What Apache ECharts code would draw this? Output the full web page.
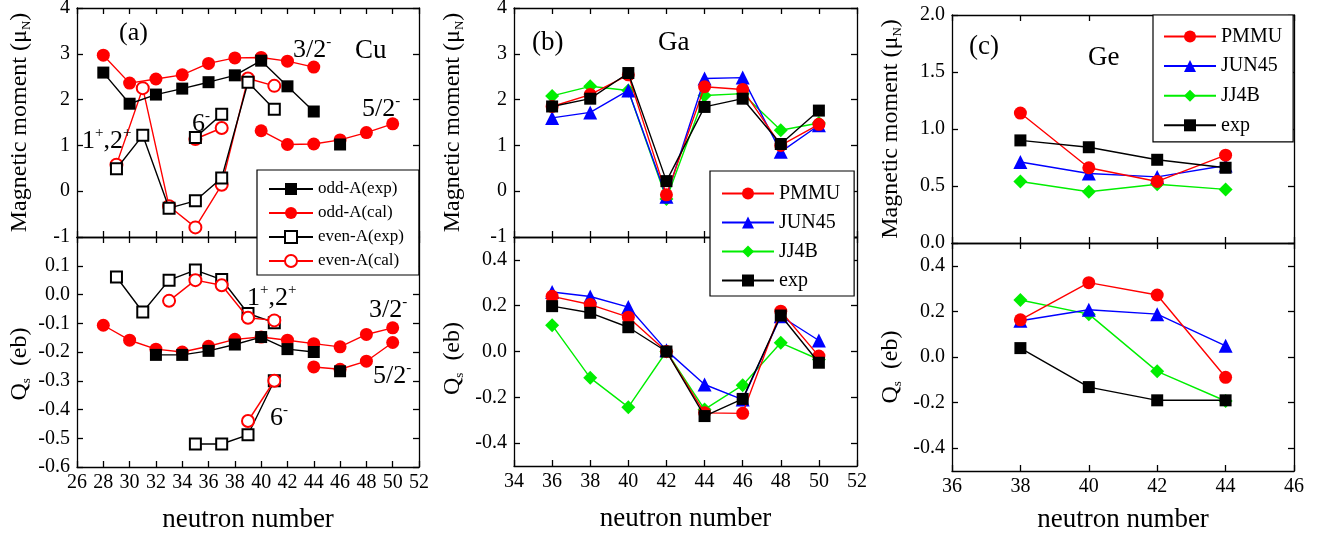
<!DOCTYPE html>
<html><head><meta charset="utf-8">
<script src="https://cdn.jsdelivr.net/npm/echarts@6/dist/echarts.min.js"></script>
<style>html,body{margin:0;padding:0;background:#fff}#c{width:1328px;height:538px}</style>
</head><body><div id="c"></div><script>
// ===================== DATA =====================
// ---- Panel (a) Cu : magnetic moment ----
const cuOddN        = [28, 30, 32, 34, 36, 38, 40, 42, 44];
const cuOddExpMu    = [2.59, 1.91, 2.11, 2.24, 2.38, 2.53, 2.85, 2.29, 1.74];
const cuOddCalMu    = [2.97, 2.36, 2.45, 2.54, 2.79, 2.91, 2.92, 2.84, 2.71];
const cu52CalMuN    = [40, 42, 44, 46, 48, 50];
const cu52CalMu     = [1.32, 1.02, 1.03, 1.12, 1.28, 1.47];
const cu52ExpMuN    = [46];
const cu52ExpMu     = [1.02];
const cuEvenN       = [29, 31, 33, 35, 37, 39, 41];
const cuEvenExpMu   = [0.49, 1.22, -0.37, -0.21, 0.29, 2.38, 1.79];
const cuEvenCalMu   = [0.58, 2.25, -0.33, -0.79, 0.14, 2.46, 2.30];
const cu6N          = [35, 37];
const cu6ExpMu      = [1.17, 1.68];
const cu6CalMu      = [1.14, 1.38];
// ---- Panel (a) Cu : quadrupole moment ----
const cuOddCalQN    = [28, 30, 32, 34, 36, 38, 40, 42, 44, 46, 48, 50];
const cuOddCalQ     = [-0.107, -0.159, -0.19, -0.20, -0.18, -0.156, -0.148, -0.159, -0.171, -0.182, -0.139, -0.116];
const cuOddExpQN    = [32, 34, 36, 38, 40, 42, 44];
const cuOddExpQ     = [-0.21, -0.21, -0.196, -0.174, -0.148, -0.19, -0.20];
const cu52CalQN     = [44, 46, 48, 50];
const cu52CalQ      = [-0.252, -0.26, -0.232, -0.167];
const cu52ExpQN     = [46];
const cu52ExpQ      = [-0.267];
const cuEvenExpQ    = [0.061, -0.061, 0.05, 0.085, 0.052, -0.066, -0.098];
const cuEvenCalQN   = [33, 35, 37, 39, 41];
const cuEvenCalQ    = [-0.022, 0.05, 0.032, -0.081, -0.09];
const cu6ExpQN      = [35, 37, 39, 41];
const cu6ExpQ       = [-0.52, -0.52, -0.488, -0.30];
const cu6CalQN      = [39, 41];
const cu6CalQ       = [-0.44, -0.30];
// ---- Panel (b) Ga ----
const gaN           = [36, 38, 40, 42, 44, 46, 48, 50];
const gaPmmuMu      = [1.85, 2.11, 2.54, -0.08, 2.28, 2.22, 1.00, 1.46];
const gaJun45Mu     = [1.60, 1.72, 2.20, -0.12, 2.46, 2.48, 0.86, 1.44];
const gaJj4bMu      = [2.08, 2.29, 2.20, -0.17, 2.09, 2.13, 1.33, 1.49];
const gaExpMu       = [1.85, 2.02, 2.58, 0.22, 1.84, 2.02, 1.03, 1.76];
const gaPmmuQ       = [0.241, 0.205, 0.15, 0.0, -0.268, -0.27, 0.176, -0.02];
const gaJun45Q      = [0.26, 0.24, 0.194, 0.005, -0.144, -0.21, 0.154, 0.048];
const gaJj4bQ       = [0.115, -0.115, -0.243, 0.0, -0.253, -0.147, 0.038, -0.035];
const gaExpQ        = [0.198, 0.169, 0.106, 0.0, -0.282, -0.207, 0.157, -0.049];
// ---- Panel (c) Ge ----
const geN           = [38, 40, 42, 44];
const gePmmuMu      = [1.14, 0.66, 0.54, 0.77];
const geJun45Mu     = [0.71, 0.61, 0.58, 0.68];
const geJj4bMu      = [0.54, 0.45, 0.515, 0.47];
const geExpMu       = [0.90, 0.84, 0.73, 0.66];
const gePmmuQ       = [0.163, 0.326, 0.272, -0.089];
const geJun45Q      = [0.159, 0.207, 0.188, 0.049];
const geJj4bQ       = [0.25, 0.188, -0.063, -0.193];
const geExpQ        = [0.039, -0.132, -0.19, -0.19];
// ---- tick values ----
const qTicksBC      = [-0.4, -0.2, 0, 0.2, 0.4];
// ---- names ----
const cuLegend      = ['odd-A(exp)', 'odd-A(cal)', 'even-A(exp)', 'even-A(cal)'];
const modelLegend   = ['PMMU', 'JUN45', 'JJ4B', 'exp'];

// ===================== LAYOUT / STYLE =====================
const FONT = 'Liberation Serif';
const RED = '#ff0000', BLUE = '#0000ff', GREEN = '#00ee00', BLACK = '#000000';
const grids = [
  {left: 77,  top: 8,   width: 342, height: 229},
  {left: 77,  top: 237, width: 342, height: 230},
  {left: 514, top: 8,   width: 343, height: 229},
  {left: 514, top: 237, width: 343, height: 229},
  {left: 952, top: 15,  width: 342, height: 228},
  {left: 952, top: 243, width: 342, height: 228}
];
const xRanges = [[26,52],[26,52],[34,52],[34,52],[36,46],[36,46]];
const fmtInt = v => String(Math.round(v));
const fmt1 = v => (Math.abs(v) < 1e-9 ? 0 : v).toFixed(1);
const yCfg = [
  {min: -1, max: 4, interval: 1, fmt: fmtInt, name: 'mu'},
  {min: -0.6, max: 0.2, interval: 0.1, fmt: fmt1, hideMax: true, name: 'q', pad: 24},
  {min: -1, max: 4, interval: 1, fmt: fmtInt, name: 'mu'},
  {min: -0.5, max: 0.5, custom: qTicksBC, fmt: fmt1, name: 'q', pad: 14},
  {min: 0, max: 2, interval: 0.5, fmt: fmt1, name: 'mu'},
  {min: -0.5, max: 0.5, custom: qTicksBC, fmt: fmt1, name: 'q', pad: 20}
];
const yNameGap = [44, 44, 48, 48, 48, 48];

const axLine = {show: true, onZero: false, lineStyle: {color: '#000', width: 1.3}};
const axTick = {show: true, inside: true, length: 6, lineStyle: {color: '#000', width: 1.3}};

const xAxes = [], yAxes = [];
grids.forEach((g, i) => {
  const bottomGrid = (i % 2 === 1);
  const [xmin, xmax] = xRanges[i];
  for (const pos of ['bottom', 'top']) {
    const showLab = bottomGrid && pos === 'bottom';
    xAxes.push({
      type: 'value', gridIndex: i, position: pos, min: xmin, max: xmax, interval: 2,
      axisLine: axLine, axisTick: axTick, splitLine: {show: false},
      axisLabel: {show: showLab, color: '#000', fontSize: 20, fontFamily: FONT, margin: 6},
      name: showLab ? 'neutron number' : '', nameLocation: 'middle', nameGap: (i === 5 ? 35 : 39),
      nameTextStyle: {color: '#000', fontSize: 27, fontFamily: FONT}
    });
  }
  const c = yCfg[i];
  for (const pos of ['left', 'right']) {
    const showLab = pos === 'left';
    const ax = {
      type: 'value', gridIndex: i, position: pos, min: c.min, max: c.max,
      axisLine: axLine, splitLine: {show: false},
      axisTick: Object.assign({}, axTick),
      axisLabel: {show: showLab, color: '#000', fontSize: 20, fontFamily: FONT, margin: 7,
                  formatter: c.fmt, showMaxLabel: c.hideMax ? false : null}
    };
    if (c.interval) ax.interval = c.interval;
    if (c.custom) {
      ax.axisTick.customValues = c.custom;
      ax.axisLabel.customValues = c.custom;
    }
    if (showLab) {
      ax.nameLocation = 'middle';
      ax.nameGap = yNameGap[i];
      if (c.name === 'mu') {
        ax.name = 'Magnetic moment (\u03bc{sub|N})';
      } else {
        ax.name = 'Q{sub|s}  (eb)';
      }
      ax.nameTextStyle = {color: '#000', fontSize: 24, fontFamily: FONT, lineHeight: 26,
        padding: c.pad ? [0, c.pad, 0, 0] : 0,
        rich: {sub: {fontSize: 13, fontFamily: FONT, color: '#000', verticalAlign: 'bottom', lineHeight: 22}}};
    }
    yAxes.push(ax);
  }
});

function ser(name, xs, ys, gi, symbol, color, size, z) {
  const empty = symbol.indexOf('empty') === 0;
  return {
    type: 'line', name: name, xAxisIndex: 2 * gi, yAxisIndex: 2 * gi,
    data: xs.map((x, k) => [x, ys[k]]),
    symbol: symbol, symbolSize: size, showAllSymbol: true,
    lineStyle: {color: color, width: 1.4},
    itemStyle: {color: color, borderColor: color, borderWidth: empty ? 1.3 : 0},
    emphasis: {disabled: true}, silent: true, z: z || 2, animation: false
  };
}

const series = [
  // panel (a) top
  ser('even-A(cal)', cuEvenN, cuEvenCalMu, 0, 'emptyCircle', RED, 12, 2),
  ser('even-A(cal)', cu6N, cu6CalMu, 0, 'emptyCircle', RED, 12, 2),
  ser('even-A(exp)', cuEvenN, cuEvenExpMu, 0, 'emptyRect', BLACK, 11, 3),
  ser('even-A(exp)', cu6N, cu6ExpMu, 0, 'emptyRect', BLACK, 11, 3),
  ser('odd-A(cal)', cuOddN, cuOddCalMu, 0, 'circle', RED, 13, 4),
  ser('odd-A(cal)', cu52CalMuN, cu52CalMu, 0, 'circle', RED, 13, 4),
  ser('odd-A(exp)', cuOddN, cuOddExpMu, 0, 'rect', BLACK, 12, 5),
  ser('odd-A(exp)', cu52ExpMuN, cu52ExpMu, 0, 'rect', BLACK, 12, 5),
  // panel (a) bottom
  ser('even-A(exp)', cuEvenN, cuEvenExpQ, 1, 'emptyRect', BLACK, 11, 2),
  ser('even-A(exp)', cu6ExpQN, cu6ExpQ, 1, 'emptyRect', BLACK, 11, 2),
  ser('even-A(cal)', cuEvenCalQN, cuEvenCalQ, 1, 'emptyCircle', RED, 12, 3),
  ser('even-A(cal)', cu6CalQN, cu6CalQ, 1, 'emptyCircle', RED, 12, 3),
  ser('odd-A(cal)', cuOddCalQN, cuOddCalQ, 1, 'circle', RED, 13, 4),
  ser('odd-A(cal)', cu52CalQN, cu52CalQ, 1, 'circle', RED, 13, 4),
  ser('odd-A(exp)', cuOddExpQN, cuOddExpQ, 1, 'rect', BLACK, 12, 5),
  ser('odd-A(exp)', cu52ExpQN, cu52ExpQ, 1, 'rect', BLACK, 12, 5),
  // panel (b)
  ser('JJ4B', gaN, gaJj4bMu, 2, 'diamond', GREEN, 14, 2),
  ser('JUN45', gaN, gaJun45Mu, 2, 'triangle', BLUE, 14, 3),
  ser('PMMU', gaN, gaPmmuMu, 2, 'circle', RED, 13, 4),
  ser('exp', gaN, gaExpMu, 2, 'rect', BLACK, 12, 5),
  ser('JJ4B', gaN, gaJj4bQ, 3, 'diamond', GREEN, 14, 2),
  ser('JUN45', gaN, gaJun45Q, 3, 'triangle', BLUE, 14, 3),
  ser('PMMU', gaN, gaPmmuQ, 3, 'circle', RED, 13, 4),
  ser('exp', gaN, gaExpQ, 3, 'rect', BLACK, 12, 5),
  // panel (c)
  ser('JJ4B', geN, geJj4bMu, 4, 'diamond', GREEN, 14, 2),
  ser('JUN45', geN, geJun45Mu, 4, 'triangle', BLUE, 14, 3),
  ser('PMMU', geN, gePmmuMu, 4, 'circle', RED, 13, 4),
  ser('exp', geN, geExpMu, 4, 'rect', BLACK, 12, 5),
  ser('JJ4B', geN, geJj4bQ, 5, 'diamond', GREEN, 14, 2),
  ser('JUN45', geN, geJun45Q, 5, 'triangle', BLUE, 14, 3),
  ser('PMMU', geN, gePmmuQ, 5, 'circle', RED, 13, 4),
  ser('exp', geN, geExpQ, 5, 'rect', BLACK, 12, 5)
];

function legend(data, left, top, pad, iw, fs, gap) {
  return {
    data: data, orient: 'vertical', left: left, top: top, padding: pad,
    itemWidth: iw, itemHeight: 15, itemGap: gap, selectedMode: false,
    backgroundColor: '#fff', borderColor: '#000', borderWidth: 1.2, borderRadius: 0,
    textStyle: {color: '#000', fontSize: fs, fontFamily: FONT, lineHeight: fs + 1},
    z: 20
  };
}
const legends = [
  legend(cuLegend, 257, 170, [10, 15, 5, 11], 44, 17, 6),
  legend(modelLegend, 710, 171, [12, 14, 5, 11], 52, 20, 8),
  legend(modelLegend, 1153, 15, [11, 11, 6, 10], 52, 20, 8.6)
];

// annotation texts (pixel placement)
const annotations = [
  ['(a)', 119, 33, 26], ['{m|3/2}{s|-}', 293, 50, 26], ['Cu', 355, 51, 27],
  ['{m|5/2}{s|-}', 362, 109, 26], ['{m|1}{s|+}{m|,2}{s|+}', 82, 141, 26], ['{m|6}{s|-}', 192, 124, 26],
  ['{m|1}{s|+}{m|,2}{s|+}', 247, 298, 26], ['{m|3/2}{s|-}', 369, 310, 26],
  ['{m|5/2}{s|-}', 373, 376, 26], ['{m|6}{s|-}', 270, 418, 26],
  ['(b)', 532, 43, 27], ['Ga', 658, 43, 27],
  ['(c)', 969, 47, 27], ['Ge', 1088, 58, 27]
];
const graphics = annotations.map(a => ({
  type: 'text', x: a[1], y: a[2], z: 30,
  style: {
    text: a[0], fill: '#000', fontSize: a[3], fontFamily: FONT, align: 'left', verticalAlign: 'middle',
    rich: {
      m: {fontSize: a[3], fontFamily: FONT, fill: '#000', color: '#000', lineHeight: 30, verticalAlign: 'middle'},
      s: {fontSize: 15, fontFamily: FONT, fill: '#000', color: '#000', lineHeight: 14, verticalAlign: 'top'}
    }
  }
}));

const chart = echarts.init(document.getElementById('c'), null, {renderer: 'canvas'});
chart.setOption({
  animation: false,
  backgroundColor: '#fff',
  textStyle: {fontFamily: FONT, color: '#000'},
  grid: grids.map(g => Object.assign({show: false, outerBoundsMode: 'none', containLabel: false}, g)),
  xAxis: xAxes,
  yAxis: yAxes,
  legend: legends,
  series: series,
  graphic: graphics
});
</script></body></html>
